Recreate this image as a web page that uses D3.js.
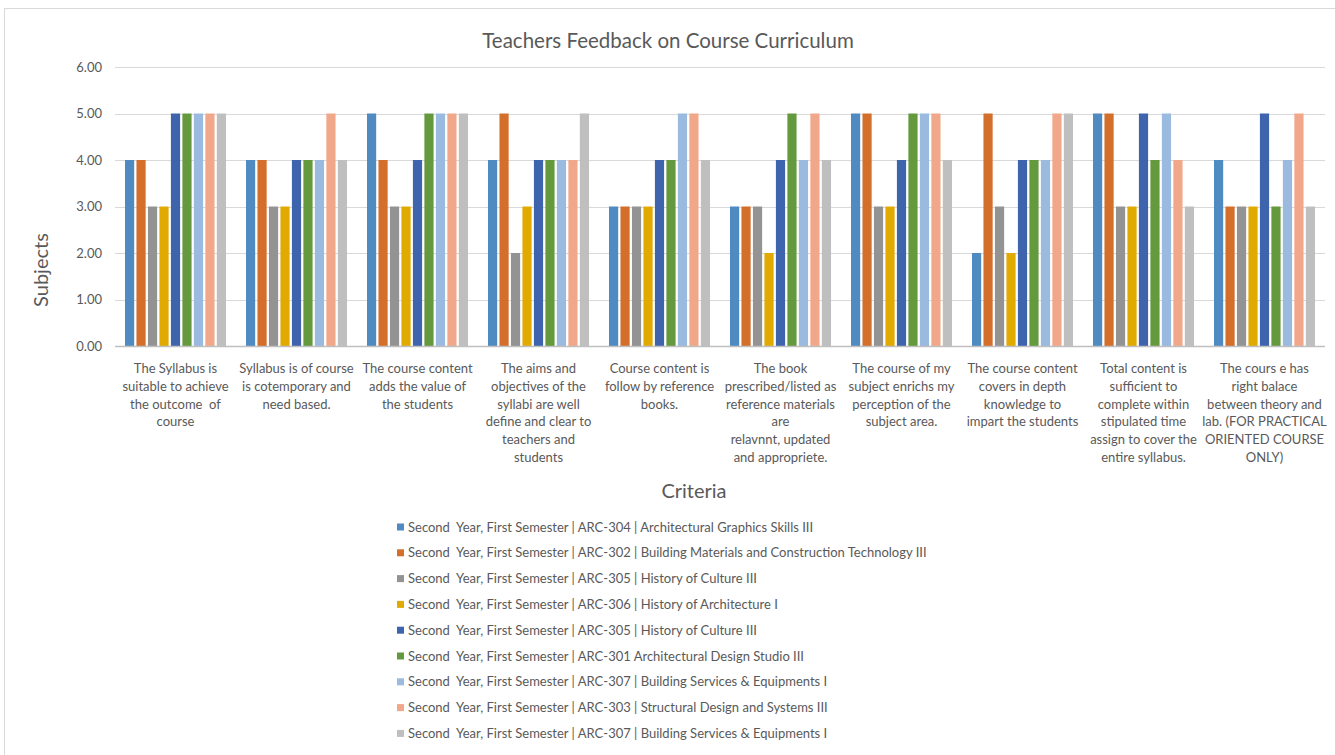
<!DOCTYPE html>
<html>
<head>
<meta charset="utf-8">
<script src="https://cdn.jsdelivr.net/npm/d3@7"></script>
<style>
  body { margin: 0; background: #fff; }
  text { font-family: Lato, "Open Sans", sans-serif; fill: #595959; white-space: pre; }
</style>
</head>
<body>
<script>
const categories = [
  ['The Syllabus is', 'suitable to achieve', 'the outcome  of', 'course'],
  ['Syllabus is of course', 'is cotemporary and', 'need based.'],
  ['The course content', 'adds the value of', 'the students'],
  ['The aims and', 'objectives of the', 'syllabi are well', 'define and clear to', 'teachers and', 'students'],
  ['Course content is', 'follow by reference', 'books.'],
  ['The book', 'prescribed/listed as', 'reference materials', 'are', 'relavnnt, updated', 'and appropriete.'],
  ['The course of my', 'subject enrichs my', 'perception of the', 'subject area.'],
  ['The course content', 'covers in depth', 'knowledge to', 'impart the students'],
  ['Total content is', 'sufficient to', 'complete within', 'stipulated time', 'assign to cover the', 'entire syllabus.'],
  ['The cours e has', 'right balace', 'between theory and', 'lab. (FOR PRACTICAL', 'ORIENTED COURSE', 'ONLY)']
]

const seriesNames = [
  'Second  Year, First Semester | ARC-304 | Architectural Graphics Skills III',
  'Second  Year, First Semester | ARC-302 | Building Materials and Construction Technology III',
  'Second  Year, First Semester | ARC-305 | History of Culture III',
  'Second  Year, First Semester | ARC-306 | History of Architecture I',
  'Second  Year, First Semester | ARC-305 | History of Culture III',
  'Second  Year, First Semester | ARC-301 Architectural Design Studio III',
  'Second  Year, First Semester | ARC-307 | Building Services & Equipments I',
  'Second  Year, First Semester | ARC-303 | Structural Design and Systems III',
  'Second  Year, First Semester | ARC-307 | Building Services & Equipments I'
]

const colors = ['#4F8AC0', '#D46F2B', '#939393', '#E1AA00', '#3E64AD', '#64993E', '#9ABAE0', '#F1A88A', '#BFBFBF']

// one row per category, one value per series
const values = [
  [4, 4, 3, 3, 5, 5, 5, 5, 5],
  [4, 4, 3, 3, 4, 4, 4, 5, 4],
  [5, 4, 3, 3, 4, 5, 5, 5, 5],
  [4, 5, 2, 3, 4, 4, 4, 4, 5],
  [3, 3, 3, 3, 4, 4, 5, 5, 4],
  [3, 3, 3, 2, 4, 5, 4, 5, 4],
  [5, 5, 3, 3, 4, 5, 5, 5, 4],
  [2, 5, 3, 2, 4, 4, 4, 5, 5],
  [5, 5, 3, 3, 5, 4, 5, 4, 3],
  [4, 3, 3, 3, 5, 3, 4, 5, 3]
]

const yTicks = [0, 1, 2, 3, 4, 5, 6]

const W = 1335, H = 755
const plotLeft = 115, plotRight = 1325, plotTop = 67, plotBottom = 346

const svg = d3.select('body').append('svg')
  .attr('width', W)
  .attr('height', H)

svg.append('rect')
  .attr('x', 4.5).attr('y', 8.5)
  .attr('width', W).attr('height', H)
  .attr('fill', '#fff')
  .attr('stroke', '#d9d9d9')

const x0 = d3.scaleBand()
  .domain(d3.range(categories.length))
  .range([plotLeft, plotRight])
  .paddingInner(0.165)
  .paddingOuter(0.0825)

const x1 = d3.scaleBand()
  .domain(d3.range(seriesNames.length))
  .range([0, x0.bandwidth()])
  .paddingInner(0.2)

const y = d3.scaleLinear().domain([0, 6]).range([plotBottom, plotTop])

// grid
svg.append('g')
  .selectAll('line')
  .data(yTicks.filter(d => d > 0))
  .join('line')
  .attr('x1', plotLeft).attr('x2', plotRight)
  .attr('y1', d => Math.round(y(d)) + 0.5)
  .attr('y2', d => Math.round(y(d)) + 0.5)
  .attr('stroke', '#d9d9d9')

svg.append('g')
  .selectAll('text')
  .data(yTicks)
  .join('text')
  .attr('x', 102)
  .attr('y', d => y(d))
  .attr('dy', '0.35em')
  .attr('text-anchor', 'end')
  .style('font-size', '13px')
  .text(d => d.toFixed(2))

// bars
const groups = svg.append('g')
  .selectAll('g')
  .data(values)
  .join('g')
  .attr('transform', (d, i) => `translate(${x0(i)},0)`)

groups.selectAll('rect')
  .data(d => d)
  .join('rect')
  .attr('x', (d, j) => x1(j))
  .attr('y', d => y(d))
  .attr('width', x1.bandwidth())
  .attr('height', d => y(0) - y(d))
  .attr('fill', (d, j) => colors[j])

// baseline
svg.append('line')
  .attr('x1', plotLeft).attr('x2', plotRight)
  .attr('y1', plotBottom + 0.5).attr('y2', plotBottom + 0.5)
  .attr('stroke', '#bfbfbf')
  .attr('stroke-width', 1.5)

// category labels
const catText = svg.append('g')
  .selectAll('text')
  .data(categories)
  .join('text')
  .attr('text-anchor', 'middle')
  .style('font-size', '13px')

catText.selectAll('tspan')
  .data((d, i) => d.map(line => ({ line, i })))
  .join('tspan')
  .attr('x', d => x0(d.i) + x0.bandwidth() / 2)
  .attr('y', (d, k) => 373 + k * 17.8)
  .text(d => d.line)

// titles
svg.append('text')
  .attr('x', 668).attr('y', 48)
  .attr('text-anchor', 'middle')
  .style('font-size', '20.5px')
  .text('Teachers Feedback on Course Curriculum')

svg.append('text')
  .attr('transform', 'translate(48,270) rotate(-90)')
  .attr('text-anchor', 'middle')
  .style('font-size', '20px')
  .text('Subjects')

svg.append('text')
  .attr('x', 694).attr('y', 498)
  .attr('text-anchor', 'middle')
  .style('font-size', '20px')
  .text('Criteria')

// legend
const legend = svg.append('g')
  .selectAll('g')
  .data(seriesNames)
  .join('g')
  .attr('transform', (d, i) => `translate(397,${527 + i * 25.8})`)

legend.append('rect')
  .attr('x', 0).attr('y', -3.5)
  .attr('width', 7).attr('height', 7)
  .attr('fill', (d, i) => colors[i])

legend.append('text')
  .attr('x', 11)
  .attr('dy', '0.35em')
  .style('font-size', '13px')
  .text(d => d)
</script>
</body>
</html>
